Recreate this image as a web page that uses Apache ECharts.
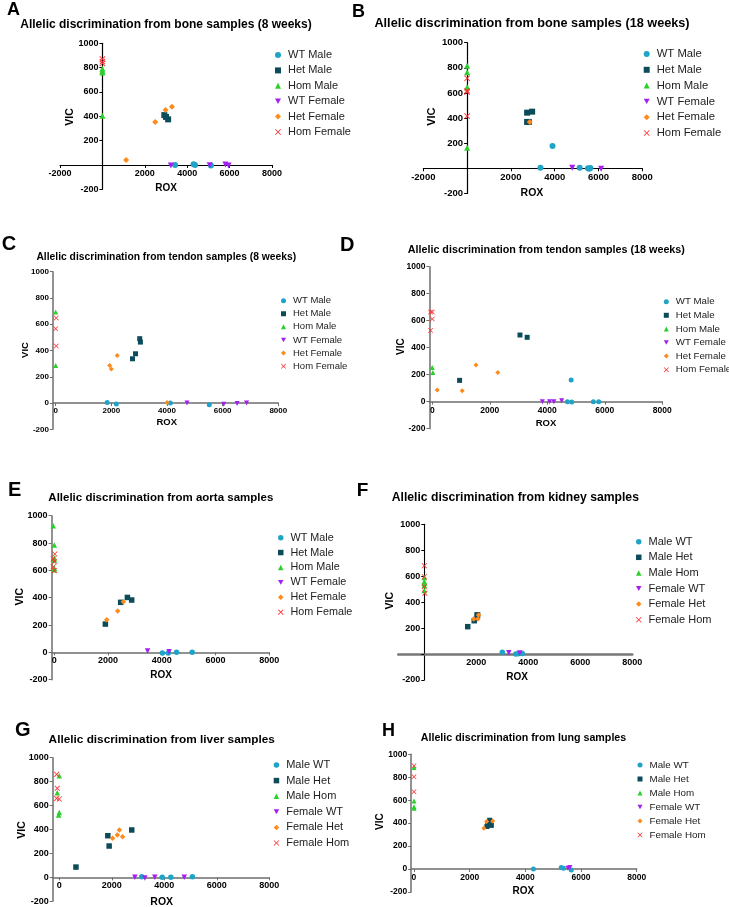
<!DOCTYPE html>
<html>
<head>
<meta charset="utf-8">
<script src="https://cdn.jsdelivr.net/npm/echarts@6/dist/echarts.min.js"></script>
<style>html,body{margin:0;padding:0;background:#fff;}#c{width:729px;height:907px;}</style>
</head>
<body>
<div id="c"></div>
<script>
// ---- series names ----
const namesSexFirst = ['WT Male','Het Male','Hom Male','WT Female','Het Female','Hom Female'];
const namesSexLast = ['Male WT','Male Het','Male Hom','Female WT','Female Het','Female Hom'];

// ---- tick labels ----
const xTicksWide = [-2000, 0, 2000, 4000, 6000, 8000];
const xLabelsWide = [-2000, 2000, 4000, 6000, 8000];
const xTicksZero = [0, 2000, 4000, 6000, 8000];
const xLabelsZero = [0, 2000, 4000, 6000, 8000];
const xLabelsKidney = [2000, 4000, 6000, 8000];
const yTicks = [-200, 0, 200, 400, 600, 800, 1000];
const yLabelsNoZero = [-200, 200, 400, 600, 800, 1000];
const yLabelsZero = [-200, 0, 200, 400, 600, 800, 1000];

// ---- titles ----
const titles = [
  'Allelic discrimination from bone samples (8 weeks)',
  'Allelic discrimination from bone samples (18 weeks)',
  'Allelic discrimination from tendon samples (8 weeks)',
  'Allelic discrimination from tendon samples (18 weeks)',
  'Allelic discrimination from aorta samples',
  'Allelic discrimination from kidney samples',
  'Allelic discrimination from liver samples',
  'Allelic discrimination from lung samples'
];
const letters = ['A','B','C','D','E','F','G','H'];

// ---- A: bone 8 weeks ----
const A_wtMale = [[3430,0],[4300,5],[4370,0],[5120,-5]];
const A_hetMale = [[2920,410],[3000,395],[3100,375]];
const A_homMale = [[0,405],[0,760],[0,775],[0,790]];
const A_wtFemale = [[3230,-5],[5060,-3],[5800,3],[5950,-5]];
const A_hetFemale = [[1120,41],[2490,353],[2980,452],[3280,479]];
const A_homFemale = [[0,870],[0,850],[0,835]];
// ---- B: bone 18 weeks ----
const B_wtMale = [[3350,5],[3900,178],[5140,5],[5520,0],[5630,2],[5570,-3]];
const B_hetMale = [[2740,443],[2970,451],[2740,369],[2820,369]];
const B_homMale = [[0,817],[0,764],[0,645],[0,164]];
const B_wtFemale = [[4800,5],[6120,-3]];
const B_hetFemale = [[2860,369]];
const B_homFemale = [[0,716],[0,618],[0,607],[0,416]];
// ---- C: tendon 8 weeks ----
const C_wtMale = [[1850,5],[2180,-8],[4120,0],[5520,-13]];
const C_hetMale = [[2760,337],[2870,375],[3020,490],[3045,464]];
const C_homMale = [[0,694],[0,286]];
const C_wtFemale = [[4720,0],[6040,-10],[6520,-3],[6860,0]];
const C_hetFemale = [[1940,286],[2000,260],[2210,362],[4000,5]];
const C_homFemale = [[20,648],[0,566],[20,434]];
// ---- D: tendon 18 weeks ----
const D_wtMale = [[4830,160],[4700,0],[4850,-3],[5600,0],[5790,0]];
const D_hetMale = [[950,158],[3050,494],[3300,477]];
const D_homMale = [[0,254],[20,217]];
const D_wtFemale = [[3830,0],[4080,0],[4230,0],[4500,7]];
const D_hetFemale = [[170,86],[1040,81],[1520,272],[2280,217]];
const D_homFemale = [[-60,664],[0,664],[0,612],[-60,528]];
// ---- E: aorta ----
const E_wtMale = [[4020,-5],[4240,-5],[4550,0],[5130,0]];
const E_hetMale = [[1900,207],[2470,366],[2720,402],[2880,383]];
const E_homMale = [[-40,927],[0,785],[0,690],[0,675],[0,615],[0,605]];
const E_wtFemale = [[3470,10],[4270,5]];
const E_hetFemale = [[1950,239],[2360,302],[2570,371]];
const E_homFemale = [[20,720],[-40,683],[0,663],[-40,627],[0,598]];
// ---- F: kidney ----
const F_maleWT = [[3000,13],[3520,0],[3610,3],[3770,5]];
const F_maleHet = [[1670,211],[1920,257],[2030,301],[2050,301]];
const F_maleHom = [[0,590],[0,560],[0,545],[0,530],[0,490]];
const F_femaleWT = [[3250,10],[3670,8]];
const F_femaleHet = [[1900,270],[2060,270],[2090,301]];
const F_femaleHom = [[0,681],[0,596],[0,519],[20,468]];
// ---- G: liver ----
const G_maleWT = [[3140,6],[3920,0],[4250,0],[5070,6]];
const G_maleHet = [[635,86],[1850,348],[1900,262],[2760,396]];
const G_maleHom = [[-76,707],[0,850],[-25,521],[0,543]];
const G_femaleWT = [[2880,0],[3260,-5],[3640,0],[4760,0]];
const G_femaleHet = [[2030,326],[2210,354],[2290,396],[2410,340]];
const G_femaleHom = [[-100,861],[-76,744],[-100,660],[0,655]];
// ---- H: lung ----
const H_maleWT = [[4290,0],[5290,12],[5370,6],[5650,-9]];
const H_maleHet = [[2620,370],[2650,390],[2720,425],[2780,380]];
const H_maleHom = [[0,884],[0,593],[0,543],[0,529]];
const H_femaleWT = [[5530,6],[5600,12]];
const H_femaleHet = [[2510,355],[2610,413],[2830,419]];
const H_femaleHom = [[0,901],[0,805],[0,674]];

// ---- styling ----
const FONT = '"Liberation Sans", Arial, sans-serif';
const COLORS = ['#1fa3c6','#0c4c5a','#2ccf2c','#a31ff2','#ff8a1c','#ff2b2b'];
const SYMBOLS = ['circle','rect','triangle','path://M0,0L10,0L5,9Z','diamond',
  'path://M1,0L5,4L9,0L10,1L6,5L10,9L9,10L5,6L1,10L0,9L4,5L0,1Z'];
const X_MAX = 8000, Y_MIN = -200, Y_MAX = 1000;

const panels = [
  {data:[A_wtMale,A_hetMale,A_homMale,A_wtFemale,A_hetFemale,A_homFemale], names:namesSexFirst,
   grid:{left:60,top:43.3,width:212,height:146}, xMin:-2000, xTicks:xTicksWide, xLabels:xLabelsWide, yLabels:yLabelsNoZero,
   yOnZero:true, axisColor:'#000', xW:1.2, yW:1.2, xTick:true, lab:9, sym:6,
   title:[166,25,12], letter:[7,10,18], rox:[166,188.3,10], vic:[70,117,10.5],
   legend:{left:275,top:47.3,lh:15.4,fs:11,icon:6}},
  {data:[B_wtMale,B_hetMale,B_homMale,B_wtFemale,B_hetFemale,B_homFemale], names:namesSexFirst,
   grid:{left:423.3,top:42.7,width:219,height:150.7}, xMin:-2000, xTicks:xTicksWide, xLabels:xLabelsWide, yLabels:yLabelsNoZero,
   yOnZero:true, axisColor:'#000', xW:1.2, yW:1.2, xTick:true, lab:9.5, sym:6,
   title:[532,23.3,12.7], letter:[352,11.7,18], rox:[532,192.7,10.5], vic:[432.3,116.7,11],
   legend:{left:643.7,top:46.1,lh:15.8,fs:11.3,icon:6}},
  {data:[C_wtMale,C_hetMale,C_homMale,C_wtFemale,C_hetFemale,C_homFemale], names:namesSexFirst,
   grid:{left:52.9,top:271.7,width:225.4,height:157.6}, xMin:-100, xTicks:xTicksZero, xLabels:xLabelsZero, yLabels:yLabelsZero,
   yOnZero:false, axisColor:'#6e6e6e', xW:1.5, yW:1.5, xTick:true, lab:8, sym:5,
   title:[166.3,256.7,10.3], letter:[1.7,244.5,20], rox:[166.7,422.7,9.5], vic:[25,350,9.5],
   legend:{left:281,top:294.1,lh:13.1,fs:9.5,icon:5}},
  {data:[D_wtMale,D_hetMale,D_homMale,D_wtFemale,D_hetFemale,D_homFemale], names:namesSexFirst,
   grid:{left:429.4,top:266.7,width:232.9,height:162}, xMin:-100, xTicks:xTicksZero, xLabels:xLabelsZero, yLabels:yLabelsZero,
   yOnZero:false, axisColor:'#6e6e6e', xW:1.5, yW:1.5, xTick:true, lab:8.5, sym:5,
   title:[546.3,250,10.75], letter:[340,245,20], rox:[546,423,9.5], vic:[401.3,346.7,10],
   legend:{left:663.8,top:294.9,lh:13.6,fs:9.7,icon:5}},
  {data:[E_wtMale,E_hetMale,E_homMale,E_wtFemale,E_hetFemale,E_homFemale], names:namesSexFirst,
   grid:{left:51.6,top:515.7,width:217.7,height:164}, xMin:-100, xTicks:xTicksZero, xLabels:xLabelsZero, yLabels:yLabelsZero,
   yOnZero:false, axisColor:'#6e6e6e', xW:1.5, yW:1.5, xTick:true, lab:9, sym:5.5,
   title:[160.8,497.7,11.5], letter:[8,490.7,20], rox:[161,675,10], vic:[20,596.7,10.5],
   legend:{left:278,top:530.2,lh:14.9,fs:10.8,icon:5.5}},
  {data:[F_maleWT,F_maleHet,F_maleHom,F_femaleWT,F_femaleHet,F_femaleHom], names:namesSexLast,
   grid:{left:398.3,top:524.3,width:234,height:155.7}, xMin:-1000, xTicks:xLabelsKidney, xLabels:xLabelsKidney, yLabels:yLabelsNoZero,
   yOnZero:true, axisColor:'#777', yColor:'#000', xW:2.5, yW:1.1, xTick:false, lab:9, sym:5.5,
   title:[515.3,497.7,12.2], letter:[356.7,491,19], rox:[517,677.7,10], vic:[390,600.7,10.5],
   legend:{left:636,top:533.9,lh:15.6,fs:11,icon:5.5}},
  {data:[G_maleWT,G_maleHet,G_maleHom,G_femaleWT,G_femaleHet,G_femaleHom], names:namesSexLast,
   grid:{left:52.7,top:757.7,width:216.6,height:143.6}, xMin:-250, xTicks:xTicksZero, xLabels:xLabelsZero, yLabels:yLabelsZero,
   yOnZero:false, axisColor:'#6e6e6e', xW:1.5, yW:1.5, xTick:true, lab:9, sym:5.5,
   title:[161.7,739.3,11.8], letter:[15,730.7,20], rox:[161.7,901.7,10.5], vic:[21.7,830,10.5],
   legend:{left:273.7,top:757.2,lh:15.6,fs:11,icon:5.5}},
  {data:[H_maleWT,H_maleHet,H_maleHom,H_femaleWT,H_femaleHet,H_femaleHom], names:namesSexLast,
   grid:{left:411.2,top:754.3,width:225.5,height:137.6}, xMin:-100, xTicks:xTicksZero, xLabels:xLabelsZero, yLabels:yLabelsZero,
   yOnZero:false, axisColor:'#6e6e6e', xW:1.5, yW:1.5, xTick:true, lab:8.5, sym:5,
   title:[523.5,737.7,10.7], letter:[382,731.5,18], rox:[523.3,891,10], vic:[380.7,821.7,10],
   legend:{left:637.5,top:758,lh:14,fs:9.8,icon:5}}
];

const plain = v => String(v);
const grids = [], xAxes = [], yAxes = [], series = [], legends = [], graphics = [];
panels.forEach((p, i) => {
  grids.push(Object.assign({containLabel:false}, p.grid));
  const labStyle = {fontSize:p.lab, fontWeight:'bold', color:'#000', fontFamily:FONT, formatter:plain};
  // axis lines placed at the zero of the other axis (labels travel with them)
  const xOff = -(0 - Y_MIN) / (Y_MAX - Y_MIN) * p.grid.height;
  const yOff = p.yOnZero ? -(0 - p.xMin) / (X_MAX - p.xMin) * p.grid.width : 0;
  xAxes.push({
    type:'value', gridIndex:i, min:p.xMin, max:X_MAX, position:'bottom', offset:xOff,
    axisLine:{show:true, onZero:false, lineStyle:{color:p.axisColor, width:p.xW}},
    axisTick:{show:p.xTick, length:3, customValues:p.xTicks, lineStyle:{color:p.axisColor, width:1}},
    axisLabel:Object.assign({customValues:p.xLabels, margin:4}, labStyle),
    splitLine:{show:false}
  });
  const yc = p.yColor || p.axisColor;
  yAxes.push({
    type:'value', gridIndex:i, min:Y_MIN, max:Y_MAX, position:'left', offset:yOff,
    axisLine:{show:true, onZero:false, lineStyle:{color:yc, width:p.yW}},
    axisTick:{show:true, length:3, customValues:yTicks, lineStyle:{color:yc, width:1}},
    axisLabel:Object.assign({customValues:p.yLabels, margin:4}, labStyle),
    splitLine:{show:false}
  });
  p.data.forEach((d, k) => {
    series.push({
      type:'scatter', name:p.names[k], xAxisIndex:i, yAxisIndex:i, data:d,
      symbol:SYMBOLS[k], symbolSize:p.sym, itemStyle:{color:COLORS[k], opacity:1},
      emphasis:{disabled:true}
    });
  });
  const L = p.legend;
  legends.push({
    orient:'vertical', left:L.left, top:L.top, padding:0, itemGap:0,
    itemWidth:L.icon, itemHeight:L.icon, data:p.names, selectedMode:false,
    textStyle:{fontSize:L.fs, lineHeight:L.lh, color:'#222', fontFamily:FONT, padding:[0,0,0,2]}
  });
  graphics.push({type:'text', x:p.title[0], y:p.title[1],
    style:{text:titles[i], font:'bold '+p.title[2]+'px '+FONT, fill:'#000', textAlign:'center', textVerticalAlign:'middle'}});
  graphics.push({type:'text', x:p.letter[0], y:p.letter[1],
    style:{text:letters[i], font:'bold '+p.letter[2]+'px '+FONT, fill:'#000', textAlign:'left', textVerticalAlign:'middle'}});
  graphics.push({type:'text', x:p.rox[0], y:p.rox[1],
    style:{text:'ROX', font:'bold '+p.rox[2]+'px '+FONT, fill:'#000', textAlign:'center', textVerticalAlign:'middle'}});
  graphics.push({type:'text', x:p.vic[0], y:p.vic[1], rotation:Math.PI/2,
    style:{text:'VIC', font:'bold '+p.vic[2]+'px '+FONT, fill:'#000', textAlign:'center', textVerticalAlign:'middle'}});
});

const chart = echarts.init(document.getElementById('c'), null, {renderer:'canvas'});
chart.setOption({
  animation:false, backgroundColor:'#fff',
  grid:grids, xAxis:xAxes, yAxis:yAxes, series:series, legend:legends, graphic:graphics
});
</script>
</body>
</html>
